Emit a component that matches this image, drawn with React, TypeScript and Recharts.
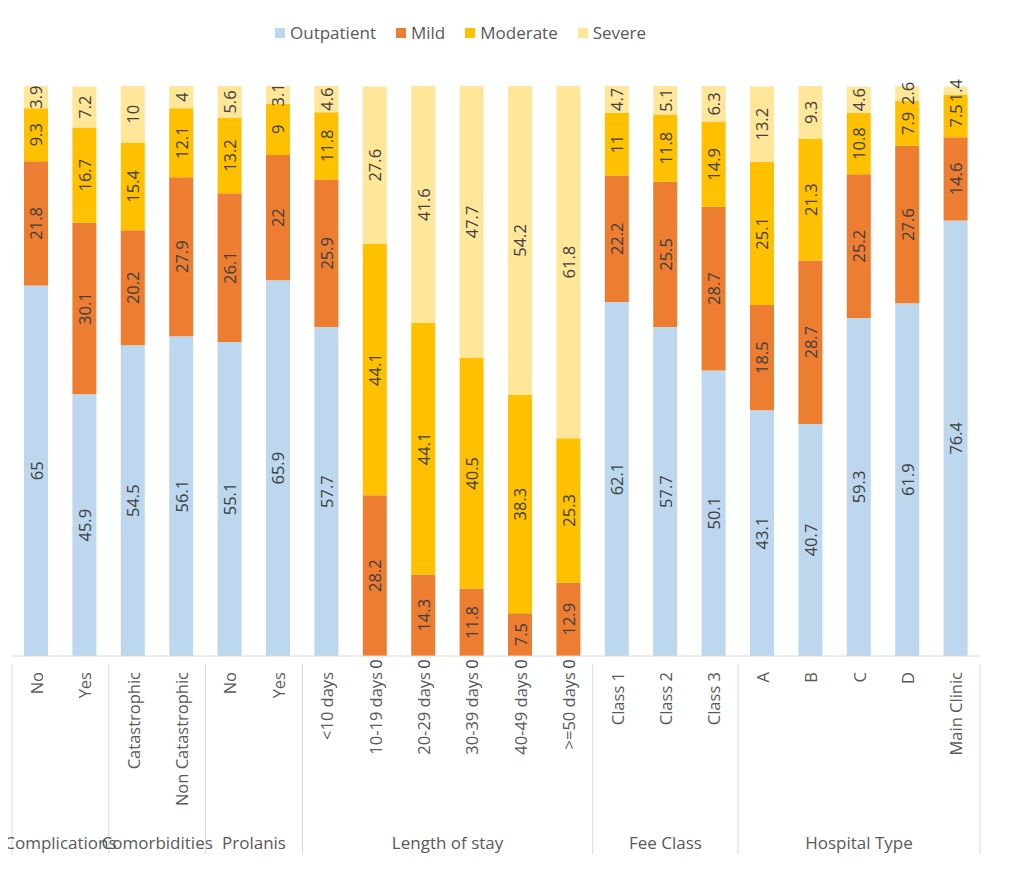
import React from 'react';
import { BarChart, Bar, XAxis, YAxis, LabelList } from 'recharts';

const categories = [
  'No', 'Yes', 'Catastrophic', 'Non Catastrophic', 'No', 'Yes',
  '<10 days', '10-19 days', '20-29 days', '30-39 days', '40-49 days', '>=50 days',
  'Class 1', 'Class 2', 'Class 3', 'A', 'B', 'C', 'D', 'Main Clinic',
];
const outpatient = [65, 45.9, 54.5, 56.1, 55.1, 65.9, 57.7, 0, 0, 0, 0, 0, 62.1, 57.7, 50.1, 43.1, 40.7, 59.3, 61.9, 76.4];
const mild = [21.8, 30.1, 20.2, 27.9, 26.1, 22, 25.9, 28.2, 14.3, 11.8, 7.5, 12.9, 22.2, 25.5, 28.7, 18.5, 28.7, 25.2, 27.6, 14.6];
const moderate = [9.3, 16.7, 15.4, 12.1, 13.2, 9, 11.8, 44.1, 44.1, 40.5, 38.3, 25.3, 11, 11.8, 14.9, 25.1, 21.3, 10.8, 7.9, 7.5];
const severe = [3.9, 7.2, 10, 4, 5.6, 3.1, 4.6, 27.6, 41.6, 47.7, 54.2, 61.8, 4.7, 5.1, 6.3, 13.2, 9.3, 4.6, 2.6, 1.4];
const groups = [
  { name: 'Complications', count: 2 },
  { name: 'Comorbidities', count: 2 },
  { name: 'Prolanis', count: 2 },
  { name: 'Length of stay', count: 6 },
  { name: 'Fee Class', count: 3 },
  { name: 'Hospital Type', count: 5 },
];

const series = [
  { key: 'Outpatient', color: '#BDD7EE' },
  { key: 'Mild', color: '#ED7D31' },
  { key: 'Moderate', color: '#FFC000' },
  { key: 'Severe', color: '#FFE699' },
];

const data = categories.map((c, i) => ({
  id: i,
  name: c,
  Outpatient: outpatient[i],
  Mild: mild[i],
  Moderate: moderate[i],
  Severe: severe[i],
}));

const W = 1024;
const H = 879;
const AXIS_H = 190;
const margin = { top: 86, right: 44, bottom: 223 - AXIS_H, left: 12 };
const bandW = (W - margin.left - margin.right) / categories.length;
const font = '"Open Sans", sans-serif';
const gridColor = '#d9d9d9';
const valueSize = 16.5;

// first index of each group
const groupStart: Record<number, { name: string; count: number }> = {};
let acc = 0;
groups.forEach((g) => {
  groupStart[acc] = g;
  acc += g.count;
});

const CategoryTick = (props: any) => {
  const { x, y, payload, index } = props;
  const i = payload.value;
  const label = categories[i] ?? '';
  const g = groupStart[index];
  const left = x - bandW / 2;
  const axisY = y;
  return (
    <g>
      <text
        x={x}
        y={axisY + 8}
        transform={`rotate(-90, ${x}, ${axisY + 8})`}
        textAnchor="end"
        dominantBaseline="central"
        fontSize={16.5}
        fill="#595959"
        fontFamily={font}
      >
        {label}
      </text>
      {/* zero-height outpatient bars still carry their "0" label at the base */}
      {outpatient[i] === 0 && (
        <text
          x={x}
          y={axisY}
          transform={`rotate(-90, ${x}, ${axisY})`}
          textAnchor="middle"
          dominantBaseline="central"
          fontSize={valueSize}
          fill="#404040"
          fontFamily={font}
        >
          0
        </text>
      )}
      {g && (
        <>
          <line x1={left} x2={left} y1={axisY} y2={axisY + 190} stroke={gridColor} />
          <text
            x={left + (g.count * bandW) / 2}
            y={axisY + 185}
            textAnchor="middle"
            fontSize={17}
            fill="#595959"
            fontFamily={font}
          >
            {g.name}
          </text>
        </>
      )}
      {index === categories.length - 1 && (
        <line x1={x + bandW / 2} x2={x + bandW / 2} y1={axisY} y2={axisY + 190} stroke={gridColor} />
      )}
    </g>
  );
};

const ValueLabel = (props: any) => {
  const { x, y, width, height, value } = props;
  if (!value) return null;
  const cx = x + width / 2;
  const cy = y + height / 2;
  return (
    <text
      x={cx}
      y={cy}
      transform={`rotate(-90, ${cx}, ${cy})`}
      textAnchor="middle"
      dominantBaseline="central"
      fontSize={valueSize}
      fill="#404040"
      fontFamily={font}
    >
      {value}
    </text>
  );
};

const LegendBox = () => (
  <div
    style={{
      position: 'absolute',
      top: 21,
      left: 275,
      display: 'flex',
      gap: 20,
      fontFamily: font,
      fontSize: 17,
      color: '#595959',
      whiteSpace: 'nowrap',
    }}
  >
    {series.map((s) => (
      <div key={s.key} style={{ display: 'flex', alignItems: 'center', gap: 5 }}>
        <span style={{ width: 10, height: 10, background: s.color, display: 'inline-block' }} />
        <span>{s.key}</span>
      </div>
    ))}
  </div>
);

export default function App() {
  return (
    <div style={{ margin: -8, background: '#fff', width: W, height: H, position: 'relative' }}>
      <LegendBox />
      <BarChart width={W} height={H} data={data} margin={margin} barSize={24}>
        <XAxis
          dataKey="id"
          interval={0}
          tick={<CategoryTick />}
          tickLine={false}
          axisLine={{ stroke: gridColor }}
          height={AXIS_H}
        />
        <YAxis hide domain={[0, 100]} allowDataOverflow />
        {series.map((s) => (
          <Bar key={s.key} dataKey={s.key} stackId="a" fill={s.color} isAnimationActive={false}>
            <LabelList dataKey={s.key} content={<ValueLabel />} />
          </Bar>
        ))}
      </BarChart>
    </div>
  );
}
